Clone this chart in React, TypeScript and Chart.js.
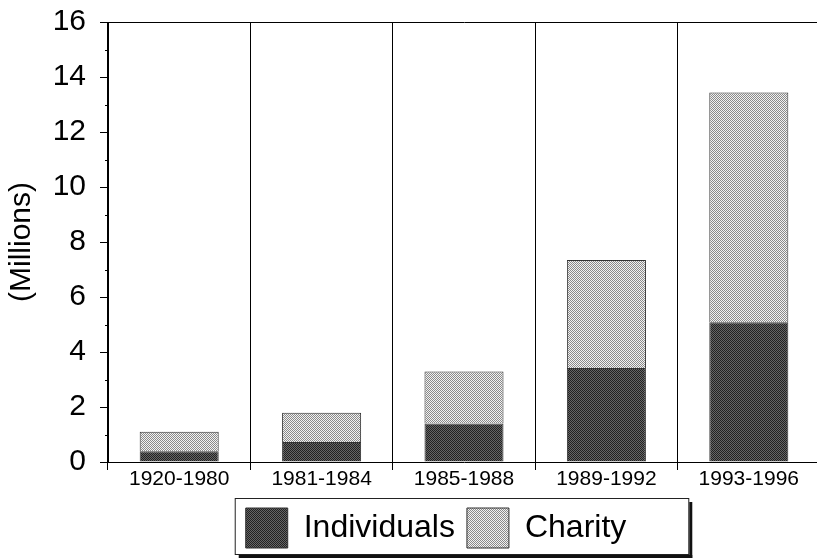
import React, { useEffect, useRef } from "react";
import { Chart, registerables } from "chart.js";

Chart.register(...registerables);

const categories = ["1920-1980", "1981-1984", "1985-1988", "1989-1992", "1993-1996"];
const individuals = [0.39, 0.73, 1.4, 3.42, 5.08];
const charity = [0.71, 1.06, 1.89, 3.93, 8.36];
const seriesNames = ["Individuals", "Charity"];
const yTitle = "(Millions)";

const FONT = "'Liberation Sans', Arial, Helvetica, sans-serif";

function makePattern(a: string, b: string): CanvasPattern | string {
  const c = document.createElement("canvas");
  c.width = 2;
  c.height = 2;
  const g = c.getContext("2d");
  if (!g) return a;
  g.fillStyle = a;
  g.fillRect(0, 0, 2, 2);
  g.fillStyle = b;
  g.fillRect(0, 0, 1, 1);
  g.fillRect(1, 1, 1, 1);
  const p = g.createPattern(c, "repeat");
  return p || a;
}

const extras = {
  id: "extras",
  afterLayout(chart: any) {
    const lg = chart.legend;
    if (lg) lg.left += 52;
  },
  afterDraw(chart: any) {
    const ctx = chart.ctx;
    const y = chart.scales.y;
    ctx.save();
    ctx.strokeStyle = "#000";
    ctx.lineWidth = 1;
    for (let v = 1; v < 16; v += 2) {
      const py = Math.round(y.getPixelForValue(v)) + 0.5;
      ctx.beginPath();
      ctx.moveTo(y.right - 3, py);
      ctx.lineTo(y.right, py);
      ctx.stroke();
    }
    const lg = chart.legend;
    if (lg && lg.legendHitBoxes && lg.legendHitBoxes.length) {
      const hb = lg.legendHitBoxes;
      const last = hb[hb.length - 1];
      const left = hb[0].left - 11;
      const right = last.left + last.width + 62;
      const top = lg.top + 2;
      const bottom = lg.bottom - 4;
      ctx.strokeStyle = "#222";
      ctx.lineWidth = 1;
      ctx.strokeRect(left + 0.5, top + 0.5, right - left, bottom - top);
      ctx.fillStyle = "#111";
      ctx.fillRect(right + 1, top + 4, 3, bottom - top);
      ctx.fillRect(left + 4, bottom + 1, right - left, 3);
    }
    ctx.restore();
  },
};

export default function App() {
  const ref = useRef<HTMLCanvasElement>(null);
  useEffect(() => {
    if (!ref.current) return;
    Chart.defaults.font.family = FONT;
    Chart.defaults.color = "#000";
    const darkPat = makePattern("#666666", "#222222");
    const lightPat = makePattern("#f2f2f2", "#8a8a8a");
    const chart = new Chart(ref.current, {
      type: "bar",
      data: {
        labels: categories,
        datasets: [
          {
            label: seriesNames[0],
            data: individuals,
            backgroundColor: darkPat as any,
            borderColor: "#333",
            borderWidth: 1,
            barPercentage: 0.555,
            categoryPercentage: 1,
          },
          {
            label: seriesNames[1],
            data: charity,
            backgroundColor: lightPat as any,
            borderColor: "#333",
            borderWidth: 1,
            barPercentage: 0.555,
            categoryPercentage: 1,
          },
        ],
      },
      options: {
        responsive: false,
        animation: false,
        layout: { autoPadding: false, padding: { left: 0, top: 22, right: 2, bottom: 0 } },
        plugins: {
          tooltip: { enabled: false },
          legend: {
            position: "bottom",
            labels: {
              boxWidth: 42,
              boxHeight: 40,
              padding: 12,
              color: "#000",
              font: { size: 32, family: FONT },
            },
          },
        },
        scales: {
          x: {
            stacked: true,
            offset: true,
            grid: {
              offset: true,
              color: "#000",
              lineWidth: 1,
              tickLength: 8,
              tickColor: "#000",
            },
            border: { display: true, color: "#000", width: 1 },
            ticks: { padding: -3, font: { size: 21, family: FONT }, color: "#000" },
            afterFit(scale: any) {
              scale.height = 34;
              scale.paddingLeft = 0;
              scale.paddingRight = 0;
              scale.paddingTop = 0;
              scale.paddingBottom = 0;
            },
          },
          y: {
            stacked: true,
            min: 0,
            max: 16,
            ticks: {
              stepSize: 2,
              padding: 14,
              font: { size: 30, family: FONT },
              color: "#000",
            },
            grid: {
              color: (c: any) => (c.tick && c.tick.value === 16 ? "#000" : "rgba(0,0,0,0)"),
              tickColor: "#000",
              tickLength: 8,
              lineWidth: 1,
            },
            border: { display: true, color: "#000", width: 1 },
            title: {
              display: true,
              text: yTitle,
              color: "#000",
              font: { size: 30, family: FONT },
              padding: { top: 4, bottom: 0 },
            },
            afterFit(scale: any) {
              scale.width = 108;
              scale.paddingLeft = 0;
              scale.paddingRight = 0;
              scale.paddingTop = 0;
              scale.paddingBottom = 0;
            },
          },
        },
      },
      plugins: [extras],
    });
    return () => chart.destroy();
  }, []);
  return (
    <div
      style={{
        position: "fixed",
        left: 0,
        top: 0,
        width: 817,
        height: 558,
        overflow: "hidden",
        background: "#fff",
      }}
    >
      <canvas ref={ref} width={822} height={558} style={{ display: "block" }} />
    </div>
  );
}
